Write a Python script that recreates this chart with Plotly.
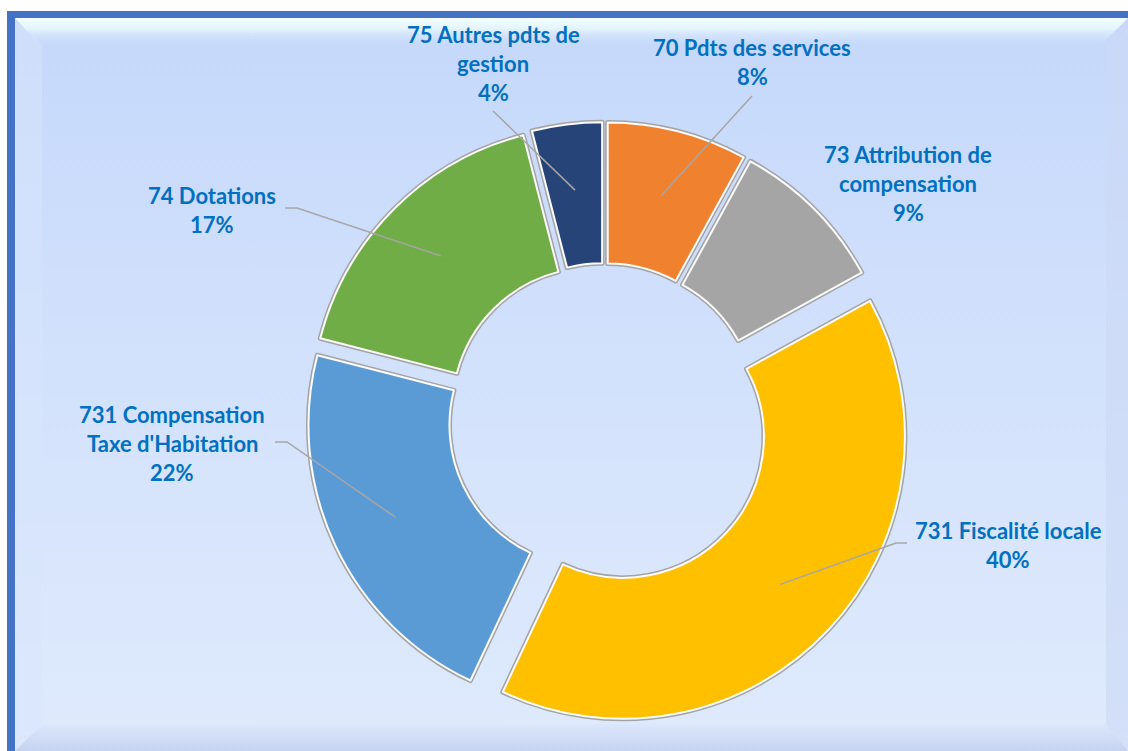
import base64
import math
import plotly.graph_objects as go

# recettes de fonctionnement, in the order they run clockwise from 12 o'clock
categories = ["70 Pdts des services", "73 Attribution de compensation",
              "731 Fiscalité locale", "731 Compensation Taxe d'Habitation",
              "74 Dotations", "75 Autres pdts de gestion"]
values = [8, 9, 40, 22, 17, 4]
colors = ["#F0822F", "#A5A5A5", "#FFC000", "#5B9BD5", "#70AD47", "#264478"]

# how each label is wrapped in the original
wrapped = {
    "70 Pdts des services": ["70 Pdts des services"],
    "73 Attribution de compensation": ["73 Attribution de", "compensation"],
    "731 Fiscalité locale": ["731 Fiscalité locale"],
    "731 Compensation Taxe d'Habitation": ["731 Compensation", "Taxe d'Habitation"],
    "74 Dotations": ["74 Dotations"],
    "75 Autres pdts de gestion": ["75 Autres pdts de", "gestion"],
}

W, H = 1128, 751
cx, cy, R = 604, 419, 282          # donut centre and outer radius, in pixels
pulls = [0.053, 0.053, 0.092, 0.053, 0.053, 0.053]

# label block: centre x, y of first line, leader line start points (None = no leader)
label_pos = {
    "70 Pdts des services": (752, 47, [(752, 96)]),
    "73 Attribution de compensation": (908, 154, None),
    "731 Fiscalité locale": (1008, 530, [(907, 543), (896, 543)]),
    "731 Compensation Taxe d'Habitation": (172, 414, [(275, 442), (287, 442)]),
    "74 Dotations": (212, 195, [(285, 208), (297, 208)]),
    "75 Autres pdts de gestion": (493, 34, [(493, 111)]),
}
line_gap = 29
text_color = "#0070C0"

# background panel: white margin, blue frame, pale blue gradient with a soft bevel
svg = f"""<svg xmlns='http://www.w3.org/2000/svg' width='{W}' height='{H}' viewBox='0 0 {W} {H}' preserveAspectRatio='none'>
<defs>
<linearGradient id='g' x1='0' y1='0' x2='0' y2='1'>
<stop offset='0' stop-color='#c5d8fb'/><stop offset='0.5' stop-color='#d3e2fc'/><stop offset='1' stop-color='#dfeafc'/>
</linearGradient>
<linearGradient id='t' x1='0' y1='0' x2='0' y2='1'>
<stop offset='0' stop-color='#f2ffff'/><stop offset='0.35' stop-color='#e4f4fd'/><stop offset='1' stop-color='#c6d9fb' stop-opacity='0'/>
</linearGradient>
<linearGradient id='b' x1='0' y1='0' x2='0' y2='1'>
<stop offset='0' stop-color='#dbe7fc'/><stop offset='1' stop-color='#c6d3ef'/>
</linearGradient>
</defs>
<rect width='{W}' height='{H}' fill='#ffffff'/>
<rect x='7' y='11' width='{W - 7}' height='{H - 11}' fill='#4472c4'/>
<rect x='15' y='18' width='{W - 15}' height='{H - 18}' fill='url(#g)'/>
<polygon points='15,18 {W},18 {W - 30},48 42,48' fill='url(#t)'/>
<polygon points='15,18 42,45 42,722 15,{H}' fill='#d8e6fc' opacity='0.5'/>
<polygon points='{W},18 {W - 22},42 {W - 22},726 {W},{H}' fill='#cbd8f5' opacity='0.6'/>
<polygon points='15,{H} 42,724 {W - 22},724 {W},{H}' fill='url(#b)'/>
</svg>"""
bg = "data:image/svg+xml;base64," + base64.b64encode(svg.encode("utf-8")).decode("ascii")

total = sum(values)
max_pull = max(pulls)
half = R * (1 + max_pull)
domain_x = [(cx - half) / W, (cx + half) / W]
domain_y = [1 - (cy + half) / H, 1 - (cy - half) / H]

fig = go.Figure()
# grey rim under a white rim, like the bevelled outline of the slices
for lw, lc in [(5, "#a3a3a3"), (2, "#fbfbfb")]:
    fig.add_trace(go.Pie(
        labels=categories, values=values, sort=False, direction="clockwise",
        rotation=0, hole=0.5, pull=pulls, textinfo="none", hoverinfo="label+percent",
        marker=dict(colors=colors, line=dict(color=lc, width=lw)),
        domain=dict(x=domain_x, y=domain_y), showlegend=False,
    ))

annotations = []
shapes = []
cum = 0
for name, v, p in zip(categories, values, pulls):
    mid = (cum + v / 2) / total * 2 * math.pi
    cum += v
    r_end = (0.765 + p) * R
    end = (cx + r_end * math.sin(mid), cy - r_end * math.cos(mid))
    x0, y0, leader = label_pos[name]
    lines = wrapped[name] + [f"{round(v / total * 100)}%"]
    for i, t in enumerate(lines):
        annotations.append(dict(
            x=x0, y=y0 + i * line_gap, xref="x", yref="y", text=f"<b>{t}</b>",
            showarrow=False, xanchor="center", yanchor="middle",
            font=dict(family="Lato", size=22, color=text_color),
        ))
    if leader:
        pts = leader + [end]
        path = "M " + " L ".join(f"{q[0]:.1f},{q[1]:.1f}" for q in pts)
        shapes.append(dict(type="path", path=path, xref="x", yref="y", layer="above",
                           line=dict(color="#a6a6a6", width=1.5)))

# an invisible pixel grid so labels and leader lines can be placed in pixels
fig.add_trace(go.Scatter(x=[0, W], y=[0, H], mode="markers", marker=dict(opacity=0),
                         hoverinfo="skip", showlegend=False))

fig.update_layout(
    width=W, height=H,
    margin=dict(l=0, r=0, t=0, b=0),
    paper_bgcolor="white", plot_bgcolor="rgba(0,0,0,0)",
    xaxis=dict(range=[0, W], visible=False, fixedrange=True),
    yaxis=dict(range=[H, 0], visible=False, fixedrange=True),
    images=[dict(source=bg, xref="paper", yref="paper", x=0, y=1, sizex=1, sizey=1,
                 xanchor="left", yanchor="top", sizing="stretch", layer="below")],
    annotations=annotations,
    shapes=shapes,
)

fig.write_html("out.html", config={"displayModeBar": False},
               post_script="document.body.style.margin='0px';")
